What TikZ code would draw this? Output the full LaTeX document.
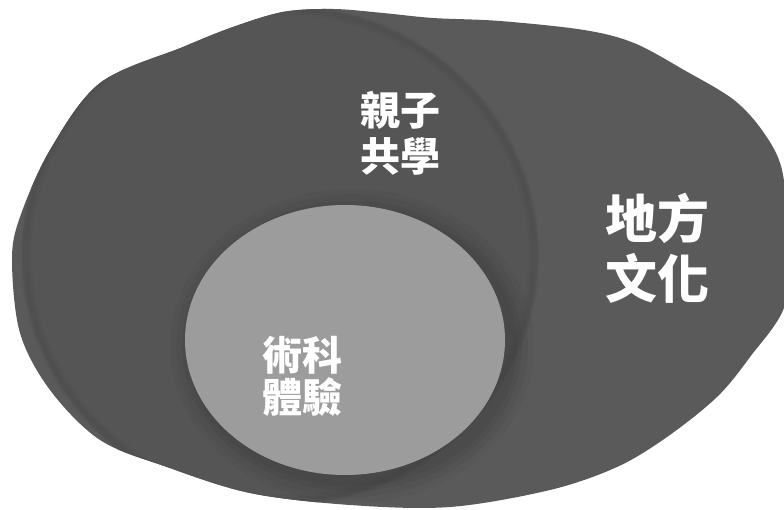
\documentclass[tikz,border=0pt]{standalone}
\usepackage{fontspec}
\newfontfamily\cjk{Noto Sans CJK TC}
\begin{document}
\begin{tikzpicture}[x=1pt,y=-1pt,
  lbl/.style={text=white, align=center, inner sep=0pt, font=\cjk\bfseries}]
\definecolor{outerc}{HTML}{5A5A5A}
\definecolor{midc}{HTML}{555555}
\definecolor{lightc}{HTML}{9C9C9C}
\definecolor{shadc}{HTML}{3E3E3E}
\useasboundingbox (0,0) rectangle (784,510);
% outer blob
\path[fill=outerc, save path=\blobpath] plot[smooth cycle, tension=0.55] coordinates {
 (12,260) (20,217) (50,150) (100,83) (183,47) (233,27) (283,12) (333,9) (383,13)
 (433,18) (500,21) (584,30) (634,43) (684,70) (734,100) (764,133) (782,170)
 (788,235) (785,305) (750,357) (717,397) (667,437) (617,467) (550,490) (450,507)
 (350,505) (250,493) (167,467) (100,440) (50,390) (20,333)};
\begin{scope}
  \clip[use path=\blobpath];
  % middle region (parent-child)
  \fill[midc] (280,255) ellipse [x radius=258, y radius=250];
  \foreach \w/\o in {12/0.06,7/0.08,3/0.1}
    \draw[shadc, line width=\w pt, opacity=\o] (280,255) ellipse [x radius=254, y radius=246];
  % soft shadow of the light circle
  \foreach \r/\o in {22/0.1,16/0.13,10/0.18,5/0.22}
    \fill[shadc, opacity=\o] (352,346) ellipse [x radius=160+\r, y radius=135+\r];
\end{scope}
\fill[lightc] (345,340) ellipse [x radius=160, y radius=135];
\node[lbl, font=\cjk\bfseries\fontsize{40}{46}\selectfont] (qinzi) at (400,133) {親子\\共學};
\node[lbl, font=\cjk\bfseries\fontsize{52}{60}\selectfont] (difang) at (657,248) {地方\\文化};
\node[lbl, font=\cjk\bfseries\fontsize{40}{42}\selectfont] (shuke) at (302,376) {術科\\體驗};
\end{tikzpicture}
\end{document}
